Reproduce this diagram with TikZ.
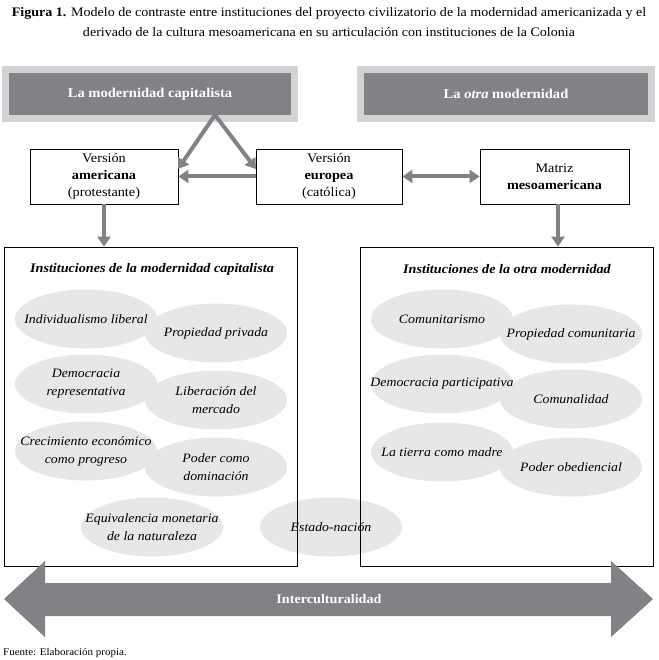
\documentclass[tikz,border=0pt]{standalone}
\usepackage{fontspec}
\setmainfont[FakeStretch=1.08]{Liberation Serif}
\usetikzlibrary{arrows.meta,calc,shapes.geometric}
\definecolor{dgrey}{HTML}{808285}
\definecolor{lgrey}{HTML}{D1D3D4}
\definecolor{egrey}{HTML}{E6E7E8}
\begin{document}
\begin{tikzpicture}[x=1pt,y=-1pt,
  capbox/.style={draw=lgrey,line width=7pt,fill=dgrey,text=white,font=\fontsize{13.5}{15}\selectfont\bfseries,minimum height=49pt,inner sep=0pt},
  verbox/.style={draw=black,line width=0.8pt,fill=white,align=center,minimum height=55pt,font=\fontsize{13.2}{17}\selectfont,inner sep=0pt},
  instbox/.style={draw=black,line width=0.8pt,inner sep=0pt,minimum width=293pt,minimum height=319pt},
  insttitle/.style={font=\fontsize{13.1}{15}\selectfont\bfseries\itshape,inner sep=0pt},
  ellfill/.style={ellipse,fill=egrey,minimum width=142pt,minimum height=59pt,inner sep=0pt},
  elltext/.style={align=center,font=\fontsize{12.8}{18}\selectfont\itshape,inner sep=0pt},
  garrow/.style={draw=dgrey,line width=4pt,-{Triangle[width=13pt,length=10pt]}},
  gdarrow/.style={draw=dgrey,line width=4pt,{Triangle[width=13pt,length=10pt]}-{Triangle[width=13pt,length=10pt]}}
]
\useasboundingbox (0,0) rectangle (658,660);
\fill[white] (0,0) rectangle (658,660);

% title
\node[align=center,font=\fontsize{13}{20}\selectfont,inner sep=0pt] (title) at (329,22)
  {\textbf{Figura 1.} Modelo de contraste entre instituciones del proyecto civilizatorio de la modernidad americanizada y el\\
   derivado de la cultura mesoamericana en su articulación con instituciones de la Colonia};

% top grey boxes
\node[capbox,minimum width=289pt] (cap) at (150,94) {La modernidad capitalista};
\node[capbox,minimum width=291pt] (otra) at (506,94) {La \textit{otra} modernidad};

% version boxes
\node[verbox,minimum width=148pt] (amer) at (104,176.5) {Versión\\\textbf{americana}\\(protestante)};
\node[verbox,minimum width=146pt] (eur) at (329,176.5) {Versión\\\textbf{europea}\\(católica)};
\node[verbox,minimum width=149pt] (mat) at (554.5,176.5) {Matriz\\\textbf{mesoamericana}};

% ellipses (left)
\node[ellfill] (e1) at (86,319) {};
\node[ellfill] (e2) at (216,333) {};
\node[ellfill] (e3) at (86,384) {};
\node[ellfill] (e4) at (216,400) {};
\node[ellfill] (e5) at (86,451) {};
\node[ellfill] (e6) at (216,467) {};
\node[ellfill] (e7) at (152,527) {};
% center
\node[ellfill] (e8) at (331,527) {};
% ellipses (right)
\node[ellfill] (r1) at (442,319) {};
\node[ellfill] (r2) at (571,334) {};
\node[ellfill] (r3) at (442,384) {};
\node[ellfill] (r4) at (571,399) {};
\node[ellfill] (r5) at (442,452) {};
\node[ellfill] (r6) at (571,467) {};

% institution boxes
\node[instbox] (linst) at (150.5,406.5) {};
\node[instbox] (rinst) at (506.5,406.5) {};
\node[insttitle] (ltit) at (152,269) {Instituciones de la modernidad capitalista};
\node[insttitle] (rtit) at (507,269) {Instituciones de la otra modernidad};

% ellipse texts
\node[elltext] (t1) at (e1) {Individualismo liberal};
\node[elltext] (t2) at (e2) {Propiedad privada};
\node[elltext] (t3) at (e3) {Democracia\\representativa};
\node[elltext] (t4) at (e4) {Liberación del\\mercado};
\node[elltext] (t5) at (e5) {Crecimiento económico\\como progreso};
\node[elltext] (t6) at (e6) {Poder como\\dominación};
\node[elltext] (t7) at (e7) {Equivalencia monetaria\\de la naturaleza};
\node[elltext] (t8) at (e8) {Estado-nación};
\node[elltext] (u1) at (r1) {Comunitarismo};
\node[elltext] (u2) at (r2) {Propiedad comunitaria};
\node[elltext] (u3) at (r3) {Democracia participativa};
\node[elltext] (u4) at (r4) {Comunalidad};
\node[elltext] (u5) at (r5) {La tierra como madre};
\node[elltext] (u6) at (r6) {Poder obediencial};

% connectors
\coordinate (apex) at (215,115);
\coordinate (amtip) at (178,169);
\coordinate (eutip) at (256,169);
\draw[garrow] (apex) -- (amtip);
\draw[garrow] (apex) -- (eutip);
\draw[garrow] (eur.west) -- (amer.east);
\draw[gdarrow] (eur.east) -- (mat.west);
\draw[garrow] (amer.south) -- (amer.south |- linst.north);
\coordinate (matbot) at (558,204);
\draw[garrow] (matbot) -- (matbot |- rinst.north);

% big double arrow
\fill[dgrey] (4,599) -- (45,561) -- (45,583) -- (611,583) -- (611,561) -- (653,599)
  -- (611,637) -- (611,616) -- (45,616) -- (45,637) -- cycle;
\node[text=white,font=\fontsize{13.1}{15}\selectfont\bfseries,inner sep=0pt] (inter) at (329,599.5) {Interculturalidad};

% source
\node[anchor=west,font=\fontsize{10.2}{12}\selectfont,inner sep=0pt] (fuente) at (3,653) {Fuente: Elaboración propia.};
\end{tikzpicture}
\end{document}
